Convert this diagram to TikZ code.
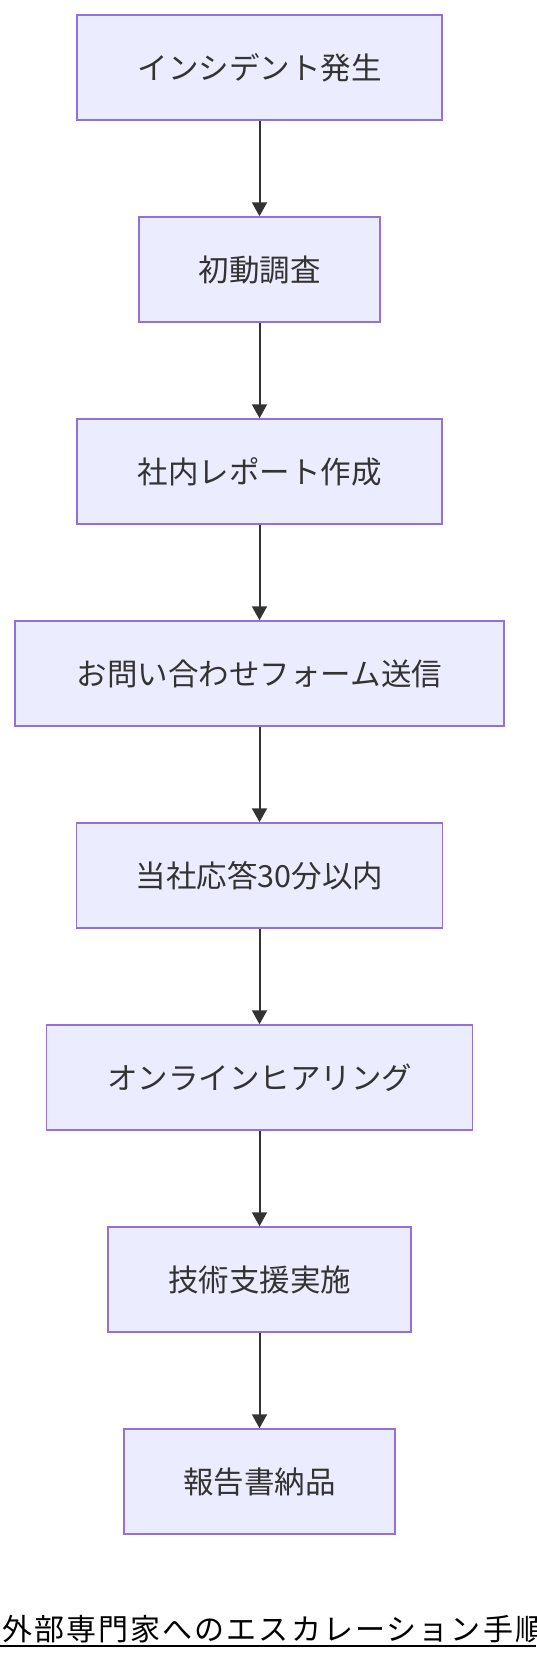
\documentclass[tikz,border=0pt]{standalone}
\usepackage{fontspec}
\setmainfont{Noto Sans CJK JP}
\newfontfamily\titlefont[LetterSpace=7]{Noto Sans CJK JP}
\usetikzlibrary{calc}
\usetikzlibrary{arrows.meta}

\definecolor{boxfill}{HTML}{ECECFF}
\definecolor{boxline}{HTML}{9370DB}
\definecolor{ink}{HTML}{333333}

\tikzset{
 stepbox/.style={draw=boxline, fill=boxfill, line width=1.5pt, text=ink,
   minimum height=105pt, inner sep=0pt, font=\fontsize{30.5}{36}\selectfont},
 flow/.style={draw=ink, line width=2pt, -{Triangle[width=15pt,length=14pt]}}
}

\begin{document}
\begin{tikzpicture}[x=1pt, y=-1pt]
\useasboundingbox (0,0) rectangle (536,1660);
\foreach \i/\w/\txt in {0/365/インシデント発生, 1/241/初動調査, 2/365/社内レポート作成,
  3/489/お問い合わせフォーム送信, 4/366/当社応答30分以内, 5/426/オンラインヒアリング,
  6/303/技術支援実施, 7/271/報告書納品} {
 \node[stepbox, minimum width=\w pt] (n\i) at (259.5, {67.5+202*\i}) {\txt};
}
\foreach \i in {0,...,6} {
 \pgfmathtruncatemacro\j{\i+1}
 \draw[flow] (n\i.south) -- (n\j.north);
}
% title with its underline
\node[anchor=base west, inner sep=0pt, font=\titlefont\fontsize{30}{36}\selectfont] (title) at (2,1640) {外部専門家へのエスカレーション手順};
\coordinate (ul) at (0,1646);
\draw[line width=2pt] (ul) -- ++(536,0);
\end{tikzpicture}
\end{document}
